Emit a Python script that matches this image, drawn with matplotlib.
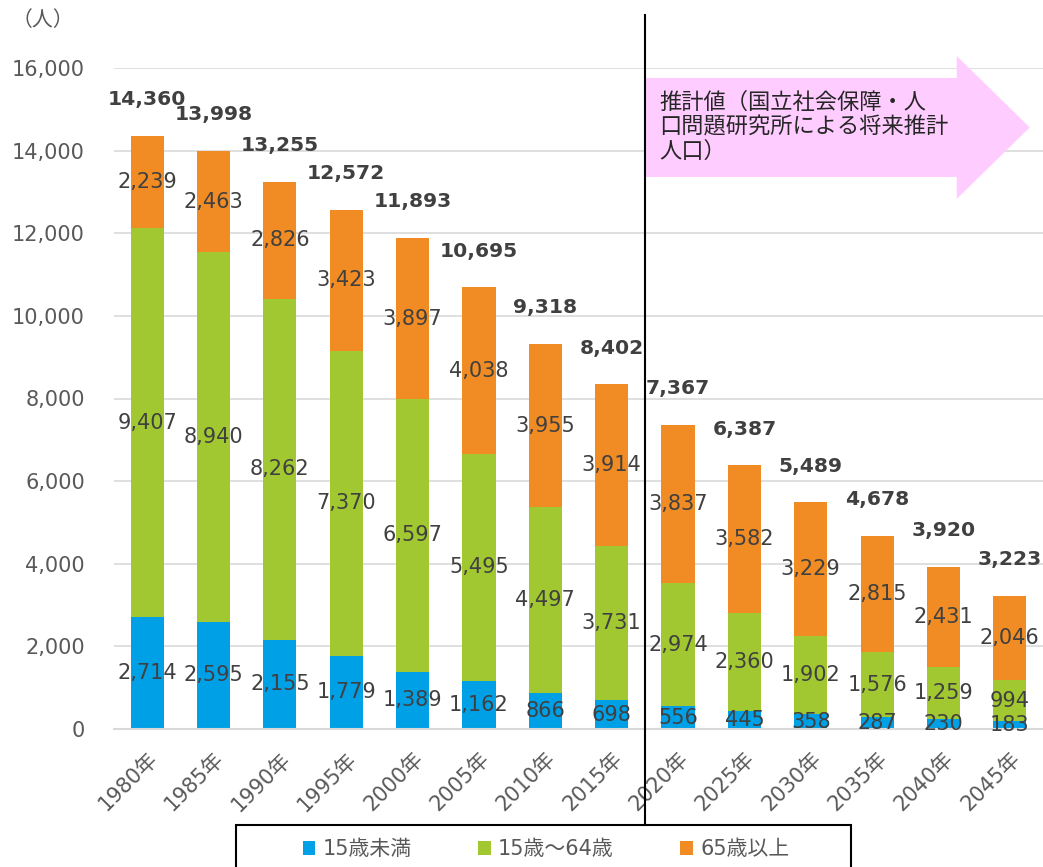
import matplotlib
matplotlib.use("Agg")
import matplotlib.pyplot as plt
import matplotlib.transforms as mtransforms
from matplotlib.patches import Polygon, Rectangle
import numpy as np

plt.rcParams['font.family'] = ['DejaVu Sans', 'Noto Sans CJK JP']

# data
years = ["1980年", "1985年", "1990年", "1995年", "2000年", "2005年", "2010年",
         "2015年", "2020年", "2025年", "2030年", "2035年", "2040年", "2045年"]
under15 = [2714, 2595, 2155, 1779, 1389, 1162, 866, 698, 556, 445, 358, 287, 230, 183]
age15_64 = [9407, 8940, 8262, 7370, 6597, 5495, 4497, 3731, 2974, 2360, 1902, 1576, 1259, 994]
over65 = [2239, 2463, 2826, 3423, 3897, 4038, 3955, 3914, 3837, 3582, 3229, 2815, 2431, 2046]
totals = [14360, 13998, 13255, 12572, 11893, 10695, 9318, 8402, 7367, 6387, 5489, 4678, 3920, 3223]
series_names = ["15歳未満", "15歳～64歳", "65歳以上"]
yticks = [0, 2000, 4000, 6000, 8000, 10000, 12000, 14000, 16000]
forecast_text = "推計値（国立社会保障・人\n口問題研究所による将来推計\n人口）"

colors = ["#00A0E6", "#A2C831", "#F08C23"]
label_color = "#404040"
tick_color = "#595959"

W, H = 1043, 867
fig = plt.figure(figsize=(W / 100, H / 100), dpi=100)
ax = fig.add_axes([114 / W, 138 / H, 929 / W, 661 / H])

x = np.arange(len(years))
bottom = np.zeros(len(years))
handles = []
for vals, c, name in zip([under15, age15_64, over65], colors, series_names):
    vals = np.array(vals)
    b = ax.bar(x, vals, 0.5, bottom=bottom, color=c, label=name, zorder=2)
    handles.append(b)
    for xi, v, b0 in zip(x, vals, bottom):
        ax.text(xi, b0 + v / 2, f"{v:,}", ha="center", va="center",
                fontsize=15, color=label_color, zorder=3)
    bottom = bottom + vals

# totals above each bar
for xi, top, t in zip(x, bottom, totals):
    ax.annotate(f"{t:,}", (xi, top), xytext=(0, 26), textcoords="offset points",
                ha="center", va="center", fontsize=14.6, fontweight="bold",
                color=label_color, annotation_clip=False)

ax.set_xlim(-0.5, len(years) - 0.5)
ax.set_ylim(0, 16000)
ax.set_yticks(yticks)
ax.set_yticklabels([f"{v:,}" for v in yticks])
ax.yaxis.grid(True, color="#D9D9D9", lw=1.2, zorder=0)
ax.set_axisbelow(True)
for s in ["top", "right", "left"]:
    ax.spines[s].set_visible(False)
ax.spines["bottom"].set_color("#D9D9D9")
ax.spines["bottom"].set_linewidth(1.5)
ax.tick_params(axis="y", length=0, pad=21, labelsize=15, labelcolor=tick_color)
ax.tick_params(axis="x", length=0, pad=14, labelsize=15, labelcolor=tick_color)
ax.set_xticks(x)
ax.set_xticklabels(years, rotation=45, ha="right", va="top", rotation_mode="anchor")

# separator between actual and forecast
split = 7.5
trans = mtransforms.blended_transform_factory(ax.transData, fig.transFigure)
ax.plot([split, split], [1 - 15 / H, 1 - 825 / H], color="black", lw=1.5,
        transform=trans, clip_on=False, zorder=4)

# pink forecast arrow
neck, tip = 12.2, 13.3
body_lo, body_hi = 13362, 15759
head_lo, head_hi = 12830, 16292
arrow = Polygon([(split, body_lo), (neck, body_lo), (neck, head_lo),
                 (tip, (head_lo + head_hi) / 2), (neck, head_hi), (neck, body_hi),
                 (split, body_hi)], closed=True, facecolor="#FFCCFF",
                edgecolor="none", clip_on=False, zorder=3)
ax.add_patch(arrow)
ax.text(split + 0.22, 15420, forecast_text, ha="left", va="top", fontsize=16,
        linespacing=1.2, color="#262626", zorder=4)

fig.text(12 / W, 1 - 20 / H, "（人）", ha="left", va="center", fontsize=15,
         color=tick_color)

# legend with box cut at the bottom edge
fig.add_artist(Rectangle((236 / W, -0.02), (851 - 236) / W, 0.02 + 1 - 825 / H,
                         transform=fig.transFigure, fill=False,
                         edgecolor="black", lw=1.5))
fig.legend(handles=handles, loc="center", bbox_to_anchor=(546 / W, 1 - 849 / H),
           ncol=3, frameon=False, fontsize=15, handlelength=0.6, handleheight=0.65,
           handletextpad=0.35, columnspacing=3.2, labelcolor=tick_color)

fig.savefig("out.png", dpi=100)
